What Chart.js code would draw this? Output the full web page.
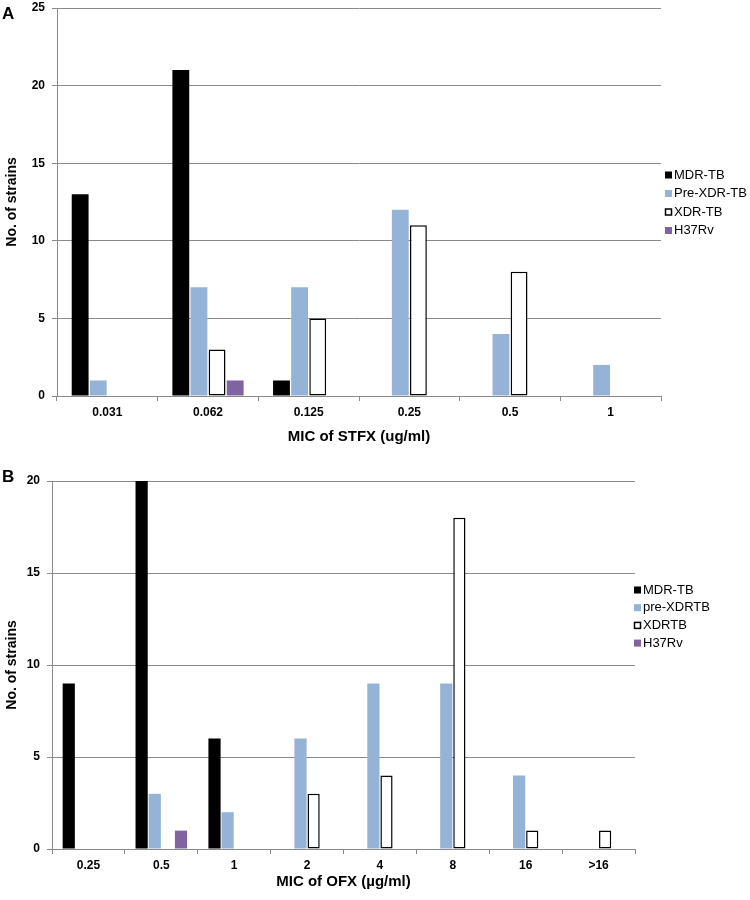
<!DOCTYPE html>
<html>
<head>
<meta charset="utf-8">
<script src="https://cdn.jsdelivr.net/npm/chart.js@4.4.0/dist/chart.umd.min.js"></script>
<style>
  body { margin: 0; background: #fff; }
  canvas { display: block; }
</style>
</head>
<body>
<canvas id="chartA" width="750" height="455"></canvas>
<canvas id="chartB" width="750" height="445"></canvas>
<script>
// Panel A: MIC of STFX
const stfxLabels = ["0.031", "0.062", "0.125", "0.25", "0.5", "1"];
const stfxMdr = [13, 21, 1, 0, 0, 0];
const stfxPreXdr = [1, 7, 7, 12, 4, 2];
const stfxXdr = [0, 3, 5, 11, 8, 0];
const stfxH37 = [0, 1, 0, 0, 0, 0];
const stfxNames = ["MDR-TB", "Pre-XDR-TB", "XDR-TB", "H37Rv"];

// Panel B: MIC of OFX
const ofxLabels = ["0.25", "0.5", "1", "2", "4", "8", "16", ">16"];
const ofxMdr = [9, 20, 6, 0, 0, 0, 0, 0];
const ofxPreXdr = [0, 3, 2, 6, 9, 9, 4, 0];
const ofxXdr = [0, 0, 0, 3, 4, 18, 1, 1];
const ofxH37 = [0, 1, 0, 0, 0, 0, 0, 0];
const ofxNames = ["MDR-TB", "pre-XDRTB", "XDRTB", "H37Rv"];

const FONT = "'Liberation Sans', Arial, sans-serif";
const GRID = "#8a8a8a";

// legend + panel letter drawn on the canvas, next to the plot
const sideLegend = {
  id: "sideLegend",
  afterDraw(chart, args, opts) {
    const ctx = chart.ctx;
    ctx.save();
    ctx.font = "bold 17px " + FONT;
    ctx.fillStyle = "#000";
    ctx.textBaseline = "middle";
    ctx.fillText(opts.letter, opts.letterX, opts.letterY);

    ctx.font = "13px " + FONT;
    chart.data.datasets.forEach((ds, i) => {
      const y = opts.y + i * opts.gap;
      ctx.fillStyle = ds.backgroundColor;
      ctx.fillRect(opts.x, y - 3.5, 7, 7);
      if (ds.borderWidth) {
        ctx.strokeStyle = ds.borderColor;
        ctx.lineWidth = 1.5;
        ctx.strokeRect(opts.x + 0.5, y - 3, 6, 6);
      }
      ctx.fillStyle = "#000";
      ctx.fillText(ds.label, opts.x + 9, y);
    });
    ctx.restore();
  }
};

function makeDatasets(names, mdr, pre, xdr, h37) {
  const base = { categoryPercentage: 0.72, barPercentage: 0.93 };
  return [
    { ...base, label: names[0], data: mdr, backgroundColor: "#000000", borderWidth: 0 },
    { ...base, label: names[1], data: pre, backgroundColor: "#95b3d7", borderWidth: 0 },
    { ...base, label: names[2], data: xdr, backgroundColor: "#ffffff", borderColor: "#000000", borderWidth: 1.5, borderSkipped: false },
    { ...base, label: names[3], data: h37, backgroundColor: "#8064a2", borderWidth: 0 },
  ];
}

function makeChart(id, labels, datasets, cfg) {
  return new Chart(document.getElementById(id), {
    type: "bar",
    data: { labels: labels, datasets: datasets },
    plugins: [sideLegend],
    options: {
      responsive: false,
      animation: false,
      layout: { padding: { top: cfg.top, right: cfg.right, left: 0, bottom: 0 } },
      plugins: {
        legend: { display: false },
        tooltip: { enabled: false },
        sideLegend: cfg.legend,
      },
      scales: {
        x: {
          afterFit: (scale) => { scale.height = cfg.xHeight; },
          grid: { drawOnChartArea: false, drawTicks: true, tickLength: 5, color: GRID },
          border: { color: GRID, width: 1 },
          ticks: { color: "#000", font: { family: FONT, size: 12, weight: "bold" }, padding: 4, maxRotation: 0 },
          title: {
            display: true,
            text: cfg.xTitle,
            color: "#000",
            font: { family: FONT, size: 15, weight: "bold" },
            padding: { top: 4, bottom: cfg.titlePad },
          },
        },
        y: {
          min: 0,
          max: cfg.yMax,
          afterFit: (scale) => {
            scale.width = cfg.yWidth;
            scale.paddingTop = 0;
            scale.paddingBottom = 0;
          },
          grid: { color: GRID, lineWidth: 1, tickLength: 5 },
          border: { color: GRID, width: 1 },
          ticks: { stepSize: 5, color: "#000", font: { family: FONT, size: 12, weight: "bold" }, padding: 7 },
          title: {
            display: true,
            text: "No. of strains",
            color: "#000",
            font: { family: FONT, size: 14, weight: "bold" },
            padding: { top: 4, bottom: 0 },
          },
        },
      },
    },
  });
}

makeChart("chartA", stfxLabels, makeDatasets(stfxNames, stfxMdr, stfxPreXdr, stfxXdr, stfxH37), {
  top: 8, right: 89, xHeight: 59, yWidth: 57, yMax: 25, titlePad: 9,
  xTitle: "MIC of STFX (ug/ml)",
  legend: { letter: "A", letterX: 2, letterY: 14, x: 665, y: 175, gap: 18.5 },
});

makeChart("chartB", ofxLabels, makeDatasets(ofxNames, ofxMdr, ofxPreXdr, ofxXdr, ofxH37), {
  top: 26, right: 115, xHeight: 51, yWidth: 52, yMax: 20, titlePad: 9,
  xTitle: "MIC of OFX (\u00b5g/ml)",
  legend: { letter: "B", letterX: 2, letterY: 22, x: 634, y: 135, gap: 17.7 },
});
</script>
</body>
</html>
